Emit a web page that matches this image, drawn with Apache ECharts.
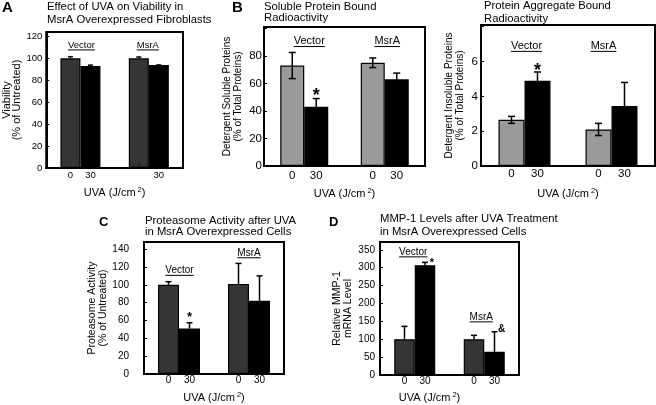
<!DOCTYPE html>
<html><head><meta charset="utf-8">
<script src="https://cdn.jsdelivr.net/npm/echarts@6/dist/echarts.min.js"></script>
<style>html,body{margin:0;padding:0;background:#fff}#c{width:656px;height:405px}</style>
</head><body><div id="c"></div>
<script>
// ---------------- DATA ----------------
const groups = ['Vector', 'MsrA'];
const doseTicks = ['0', '30'];
const xTitle = 'UVA (J/cm';

// Panel A: viability
const aTitle = 'Effect of UVA on Viability in\nMsrA Overexpressed Fibroblasts';
const aYName = 'Viability\n(% of Untreated)';
const aDose0 = [100, 100];
const aErr0 = [1.5, 1.2];
const aDose30 = [93, 94];
const aErr30 = [0.8, 0];
const aSig = ['', ''];

// Panel B (left): soluble protein bound radioactivity
const bTitle = 'Soluble Protein Bound\nRadioactivity';
const bYName = 'Detergent Soluble Proteins\n(% of Total Proteins)';
const bDose0 = [73, 75];
const bErr0 = [9.5, 3.5];
const bDose30 = [43, 63];
const bErr30 = [6, 4.5];
const bSig = ['*', ''];

// Panel B (right): aggregate bound radioactivity
const b2Title = 'Protein Aggregate Bound\nRadioactivity';
const b2YName = 'Detergent Insoluble Proteins\n(% of Total Proteins)';
const b2Dose0 = [2.65, 2.1];
const b2Err0 = [0.2, 0.35];
const b2Dose30 = [4.9, 3.45];
const b2Err30 = [0.5, 1.35];
const b2Sig = ['*', ''];

// Panel C: proteasome activity
const cTitle = 'Proteasome Activity after UVA\nin MsrA Overexpressed Cells';
const cYName = 'Proteasome Activity\n(% of Untreated)';
const cDose0 = [100, 101];
const cErr0 = [3.5, 23];
const cDose30 = [51, 82];
const cErr30 = [6.5, 28];
const cSig = ['*', ''];

// Panel D: MMP-1
const dTitle = 'MMP-1 Levels after UVA Treatment\nin MsrA Overexpressed Cells';
const dYName = 'Relative MMP-1\nmRNA Level';
const dDose0 = [100, 100];
const dErr0 = [36, 11];
const dDose30 = [307, 65];
const dErr30 = [8, 56];
const dSig = ['*', '&'];

// ---------------- LAYOUT / STYLE ----------------
const FONT = "'Liberation Sans', Arial, Helvetica, sans-serif";
const panels = [
  { letter:'A', letterPos:[2,0], letterSize:15, title:aTitle, titlePos:[47,1], titleLH:12.5, yName:aYName,
    d0:aDose0, e0:aErr0, d30:aDose30, e30:aErr30, sig:aSig, twoSided:false,
    grid:{left:44, top:32, width:139, height:136}, max:124, interval:20, labelMax:120,
    bw:20, c0:'#353535', tickFont:9.5, yLabelMargin:4, yNameGap:22, yNameFont:11, yNameLH:10.5,
    xLabelMargin:2.5, xNameGap:18, xNamePad:0, xNameFont:11, hideTick:[[],[0]],
    groupY:[112,112], groupDx:[1,-1], groupFont:9.5, capW:5,
    sigStyle:[{dx:0, dy:-6, font:16},{dx:0, dy:-6, font:16}],
    extra:[{g:1, dx:-10, y:0, dy:-2, text:'0', font:6.5}] },
  { letter:'B', letterPos:[232,0], letterSize:15, title:bTitle, titlePos:[264,1], titleLH:11.5, yName:bYName,
    d0:bDose0, e0:bErr0, d30:bDose30, e30:bErr30, sig:bSig, twoSided:true,
    grid:{left:264, top:27, width:161, height:139}, max:101, interval:20, labelMax:80,
    bw:24, c0:'#9a9a9a', tickFont:11.5, yLabelMargin:2, yNameGap:21, yNameFont:10, yNameLH:10.5,
    xLabelMargin:3.5, xNameGap:21, xNamePad:0, xNameFont:11, hideTick:[[],[]],
    groupY:[90.8,90.8], groupDx:[5,2.5], groupFont:11, capW:7,
    sigStyle:[{dx:0, dy:-6, font:18},{dx:0, dy:-6, font:18}], extra:[] },
  { letter:'', title:b2Title, titlePos:[484,0], titleLH:12.5, yName:b2YName,
    d0:b2Dose0, e0:b2Err0, d30:b2Dose30, e30:b2Err30, sig:b2Sig, twoSided:true,
    grid:{left:481, top:25, width:174, height:141}, max:8.1, interval:2, labelMax:6,
    bw:26, c0:'#9a9a9a', tickFont:11.5, yLabelMargin:3, yNameGap:16, yNameFont:10, yNameLH:10.5,
    xLabelMargin:1.5, xNameGap:21, xNamePad:0, xNameFont:11, hideTick:[[],[]],
    groupY:[6.9,6.9], groupDx:[2,-8], groupFont:11, capW:7,
    sigStyle:[{dx:0, dy:-5, font:18},{dx:0, dy:-5, font:18}], extra:[] },
  { letter:'C', letterPos:[99,216], letterSize:13, title:cTitle, titlePos:[145,215], titleLH:11.5, yName:cYName,
    d0:cDose0, e0:cErr0, d30:cDose30, e30:cErr30, sig:cSig, twoSided:false,
    grid:{left:144, top:242, width:140, height:135}, max:148, interval:20, labelMax:140,
    bw:21, c0:'#353535', tickFont:10, yLabelMargin:15, yNameGap:27, yNameFont:10.5, yNameLH:10.5,
    xLabelMargin:1.5, xNameGap:17, xNamePad:0, xNameFont:11, hideTick:[[],[]],
    groupY:[116.2,135.9], groupDx:[0.5,0], groupFont:10, capW:6,
    sigStyle:[{dx:0, dy:-8, font:13},{dx:0, dy:-8, font:13}], extra:[] },
  { letter:'D', letterPos:[329,216], letterSize:13, title:dTitle, titlePos:[380,213], titleLH:12.5, yName:dYName,
    d0:dDose0, e0:dErr0, d30:dDose30, e30:dErr30, sig:dSig, twoSided:false,
    grid:{left:380, top:242, width:139, height:135}, max:372, interval:50, labelMax:350,
    bw:20.5, c0:'#353535', tickFont:10, yLabelMargin:5, yNameGap:27, yNameFont:10.5, yNameLH:10.5,
    xLabelMargin:1, xNameGap:16, xNamePad:[0,40,0,0], xNameFont:11, hideTick:[[],[]],
    groupY:[344.4,162.6], groupDx:[-1.5,-3], groupFont:10, capW:6,
    sigStyle:[{dx:7, dy:-2, font:11},{dx:7, dy:-2, font:10}], extra:[] }
];

const measureCtx = document.createElement('canvas').getContext('2d');
function textWidth(t, size) { measureCtx.font = size + 'px ' + FONT; return measureCtx.measureText(t).width; }

const option = { animation:false, backgroundColor:'#fff', title:[], grid:[], xAxis:[], yAxis:[], series:[], graphic:[] };

panels.forEach((p, i) => {
  option.grid.push(Object.assign({ show:true, borderColor:'#000', borderWidth:2, backgroundColor:'#fff', containLabel:false }, p.grid));
  option.title.push({ text:p.title, left:p.titlePos[0], top:p.titlePos[1], padding:0,
    textStyle:{ fontFamily:FONT, fontSize:11.3, fontWeight:'normal', color:'#000', lineHeight:p.titleLH } });
  if (p.letter) option.graphic.push({ type:'text', left:p.letterPos[0], top:p.letterPos[1],
    style:{ text:p.letter, font:'bold ' + p.letterSize + 'px ' + FONT, fill:'#000' } });

  option.xAxis.push({ type:'category', gridIndex:i, data:groups,
    axisTick:{show:false}, axisLine:{show:true, lineStyle:{color:'#000', width:2}},
    axisLabel:{ interval:0, margin:p.xLabelMargin, color:'#000',
      formatter:(v, idx) => doseTicks.map((t, k) => '{d|' + (p.hideTick[idx].includes(k) ? ' ' : t) + '}').join(''),
      rich:{ d:{ width:p.bw, align:'center', fontSize:p.tickFont, fontFamily:FONT, color:'#000' } } },
    name: xTitle + '{s|2})', nameLocation:'middle', nameGap:p.xNameGap,
    nameTextStyle:{ fontFamily:FONT, fontSize:p.xNameFont, color:'#000', padding:p.xNamePad, lineHeight:13,
      rich:{ s:{ fontSize:7.5, fontFamily:FONT, color:'#000', verticalAlign:'top', lineHeight:13, padding:[0,0,0,2] } } } });

  option.yAxis.push({ type:'value', gridIndex:i, min:0, max:p.max, interval:p.interval,
    axisLine:{show:true, lineStyle:{color:'#000', width:2}},
    axisTick:{show:true, inside:true, length:3, lineStyle:{color:'#000', width:1}},
    splitLine:{show:false},
    axisLabel:{ margin:p.yLabelMargin, fontFamily:FONT, fontSize:p.tickFont, color:'#000',
      formatter:v => { const r = v / p.interval; return (Math.abs(r - Math.round(r)) < 1e-6 && v <= p.labelMax + 1e-9) ? String(Math.round(v*1000)/1000) : ''; } },
    name:p.yName, nameLocation:'middle', nameRotate:90, nameGap:p.yNameGap,
    nameTextStyle:{ fontFamily:FONT, fontSize:p.yNameFont, lineHeight:p.yNameLH, color:'#000' } });

  const barStyle = c => ({ color:c, borderColor:'#000', borderWidth:1.2 });
  option.series.push({ type:'bar', name:doseTicks[0], xAxisIndex:i, yAxisIndex:i, data:p.d0, barWidth:p.bw, barGap:'0%', itemStyle:barStyle(p.c0), z:2 });
  option.series.push({ type:'bar', name:doseTicks[1], xAxisIndex:i, yAxisIndex:i, data:p.d30, barWidth:p.bw, barGap:'0%', itemStyle:barStyle('#000'), z:2 });

  // error bars
  [[p.d0, p.e0, 0], [p.d30, p.e30, 1]].forEach(([vals, errs, dose]) => {
    option.series.push({ type:'custom', xAxisIndex:i, yAxisIndex:i, z:5, clip:false,
      encode:{ x:0, y:[1,2] },
      data: vals.map((v, g) => [g, v + errs[g], p.twoSided ? v - errs[g] : v]),
      renderItem:(params, api) => {
        const g = api.value(0);
        const pt = api.coord([g, api.value(1)]);
        const pb = api.coord([g, api.value(2)]);
        const x = pt[0] + (dose === 0 ? -p.bw/2 : p.bw/2);
        const st = { stroke:'#000', lineWidth:1.5 };
        const ch = [
          { type:'line', shape:{ x1:x, y1:pt[1], x2:x, y2:pb[1] }, style:st },
          { type:'line', shape:{ x1:x - p.capW/2, y1:pt[1], x2:x + p.capW/2, y2:pt[1] }, style:st } ];
        if (p.twoSided) ch.push({ type:'line', shape:{ x1:x - p.capW/2, y1:pb[1], x2:x + p.capW/2, y2:pb[1] }, style:st });
        return { type:'group', children:ch };
      } });
  });

  // annotations: group labels (underlined), significance marks, extras
  const ann = [];
  groups.forEach((gname, g) => ann.push({ g, dx:p.groupDx[g], y:p.groupY[g], dy:0, text:gname, font:p.groupFont, underline:true }));
  p.sig.forEach((s, g) => { if (s) ann.push({ g, dx:p.bw/2 + p.sigStyle[g].dx, y:p.d30[g] + p.e30[g], dy:p.sigStyle[g].dy,
    text:s, font:p.sigStyle[g].font, bold:true, star:s === '*' }); });
  p.extra.forEach(e => ann.push(e));
  option.series.push({ type:'custom', xAxisIndex:i, yAxisIndex:i, z:6, clip:false, encode:{ x:0, y:1 },
    data: ann.map((a, k) => [a.g, a.y, k]),
    renderItem:(params, api) => {
      const a = ann[params.dataIndex];
      const pos = api.coord([api.value(0), api.value(1)]);
      const x = pos[0] + a.dx;
      const y = pos[1] + a.dy + (a.star ? a.font * 0.22 : 0);
      const ch = [{ type:'text', style:{ text:a.text, x, y, align:'center', verticalAlign:'middle',
        font:(a.bold ? 'bold ' : '') + a.font + 'px ' + FONT, fill:'#000' } }];
      if (a.underline) {
        const w = textWidth(a.text, a.font);
        const uy = y + a.font * 0.5;
        ch.push({ type:'line', shape:{ x1:x - w/2, y1:uy, x2:x + w/2, y2:uy }, style:{ stroke:'#000', lineWidth:1 } });
      }
      return { type:'group', children:ch };
    } });
});

const chart = echarts.init(document.getElementById('c'), null, { renderer:'canvas' });
chart.setOption(option);
</script>
</body></html>
